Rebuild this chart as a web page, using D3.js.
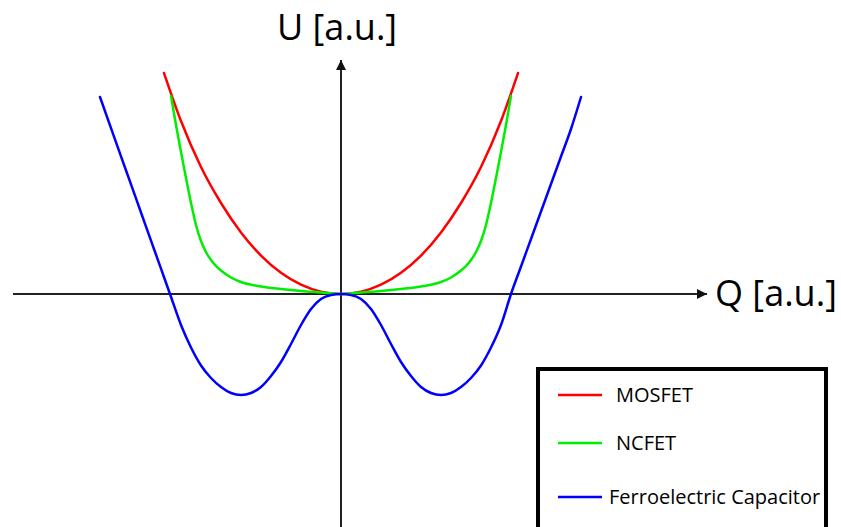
<!DOCTYPE html>
<html>
<head>
<meta charset="utf-8">
<script src="https://cdn.jsdelivr.net/npm/d3@7"></script>
<style>
  html, body { margin: 0; padding: 0; background: #fff; }
  svg { display: block; }
  text { font-family: "Open Sans", "Noto Sans", sans-serif; fill: #000; }
</style>
</head>
<body>
<svg id="chart" width="841" height="527"></svg>
<script>
// ---- data (arbitrary units) ----
const seriesNames = ["MOSFET", "NCFET", "Ferroelectric Capacitor"];
const seriesColors = ["#ff0000", "#00ee00", "#0000ff"];

const mosfetQ = [-1.77, -1.6, -1.4, -1.2, -1.0, -0.8, -0.6, -0.4, -0.2, 0,
                 0.2, 0.4, 0.6, 0.8, 1.0, 1.2, 1.4, 1.6, 1.77];
const mosfetU = [2.21, 1.73, 1.27, 0.91, 0.615, 0.384, 0.212, 0.093, 0.023, 0,
                 0.023, 0.093, 0.212, 0.384, 0.615, 0.91, 1.27, 1.73, 2.21];

const ncfetQ = [-1.70, -1.65, -1.60, -1.55, -1.50, -1.45, -1.40, -1.35, -1.30, -1.25, -1.2, -1.1, -1.0, -0.8, -0.6, -0.4, -0.2, 0,
                0.2, 0.4, 0.6, 0.8, 1.0, 1.1, 1.2, 1.25, 1.30, 1.35, 1.40, 1.45, 1.50, 1.55, 1.60, 1.65, 1.70];
const ncfetU = [1.98, 1.69, 1.42, 1.16, 0.91, 0.69, 0.53, 0.42, 0.34, 0.28, 0.235, 0.165, 0.12, 0.075, 0.05, 0.03, 0.015, 0,
                0.015, 0.03, 0.05, 0.075, 0.12, 0.165, 0.235, 0.28, 0.34, 0.42, 0.53, 0.69, 0.91, 1.16, 1.42, 1.69, 1.98];

const ferroQ = [-2.41, -2.3, -2.2, -2.1, -2.0, -1.9, -1.8, -1.71, -1.6, -1.5, -1.4, -1.3, -1.2, -1.1, -1.0,
                -0.9, -0.8, -0.7, -0.6, -0.5, -0.4, -0.3, -0.2, -0.1, 0,
                0.1, 0.2, 0.3, 0.4, 0.5, 0.6, 0.7, 0.8, 0.9,
                1.0, 1.1, 1.2, 1.3, 1.4, 1.5, 1.6, 1.70, 1.8, 1.9, 2.0, 2.1, 2.2, 2.3, 2.40];
const ferroU = [1.97, 1.658, 1.377, 1.096, 0.815, 0.534, 0.253, 0, -0.31, -0.535, -0.715, -0.84, -0.93, -0.99, -1.01,
                -0.99, -0.93, -0.82, -0.68, -0.50, -0.31, -0.15, -0.05, -0.01, 0,
                -0.01, -0.05, -0.15, -0.31, -0.50, -0.68, -0.82, -0.93, -0.99,
                -1.01, -0.99, -0.93, -0.84, -0.715, -0.535, -0.31, 0, 0.275, 0.55, 0.825, 1.10, 1.375, 1.65, 1.97];

const axisLabels = ["Q [a.u.]", "U [a.u.]"];

// ---- scales ----
const x = d3.scaleLinear().domain([-3.28, 3.66]).range([13, 707]);
const y = d3.scaleLinear().domain([-2.33, 2.34]).range([527, 60]);

const svg = d3.select("#chart");

// arrow marker
const defs = svg.append("defs");
defs.append("marker")
  .attr("id", "arrow")
  .attr("viewBox", "0 0 10 10")
  .attr("refX", 10).attr("refY", 5)
  .attr("markerWidth", 10).attr("markerHeight", 10)
  .attr("markerUnits", "userSpaceOnUse")
  .attr("orient", "auto")
  .append("path")
  .attr("d", "M0,0 L10,5 L0,10 Z")
  .attr("fill", "#111");

// axes
svg.append("line")
  .attr("x1", x(-3.28)).attr("y1", y(0))
  .attr("x2", x(3.66)).attr("y2", y(0))
  .attr("stroke", "#222").attr("stroke-width", 2)
  .attr("marker-end", "url(#arrow)");
svg.append("line")
  .attr("x1", x(0)).attr("y1", y(-2.33))
  .attr("x2", x(0)).attr("y2", y(2.34))
  .attr("stroke", "#222").attr("stroke-width", 2)
  .attr("marker-end", "url(#arrow)");

// curves
const line = d3.line()
  .x(d => x(d[0]))
  .y(d => y(d[1]))
  .curve(d3.curveMonotoneX);

const series = [
  { name: seriesNames[0], color: seriesColors[0], pts: d3.zip(mosfetQ, mosfetU) },
  { name: seriesNames[1], color: seriesColors[1], pts: d3.zip(ncfetQ, ncfetU) },
  { name: seriesNames[2], color: seriesColors[2], pts: d3.zip(ferroQ, ferroU) }
];

svg.append("g").selectAll("path")
  .data(series)
  .join("path")
  .attr("d", d => line(d.pts))
  .attr("fill", "none")
  .attr("stroke", d => d.color)
  .attr("stroke-width", 2.5)
  .attr("stroke-linecap", "round");

// axis labels
svg.append("text")
  .attr("x", 715).attr("y", 306)
  .attr("font-size", 36)
  .text(axisLabels[0]);
svg.append("text")
  .attr("x", 277).attr("y", 40)
  .attr("font-size", 36)
  .text(axisLabels[1]);

// legend
const lg = svg.append("g");
lg.append("rect")
  .attr("x", 538).attr("y", 369)
  .attr("width", 288).attr("height", 170)
  .attr("fill", "#fff")
  .attr("stroke", "#000").attr("stroke-width", 4);

const legendY = [395, 443, 497];
const legendTextX = [616, 616, 609];
series.forEach((s, i) => {
  lg.append("line")
    .attr("x1", 558).attr("x2", 602)
    .attr("y1", legendY[i]).attr("y2", legendY[i])
    .attr("stroke", s.color).attr("stroke-width", 2.5);
  lg.append("text")
    .attr("x", legendTextX[i]).attr("y", legendY[i] + 7)
    .attr("font-size", 20)
    .text(s.name);
});
</script>
</body>
</html>
